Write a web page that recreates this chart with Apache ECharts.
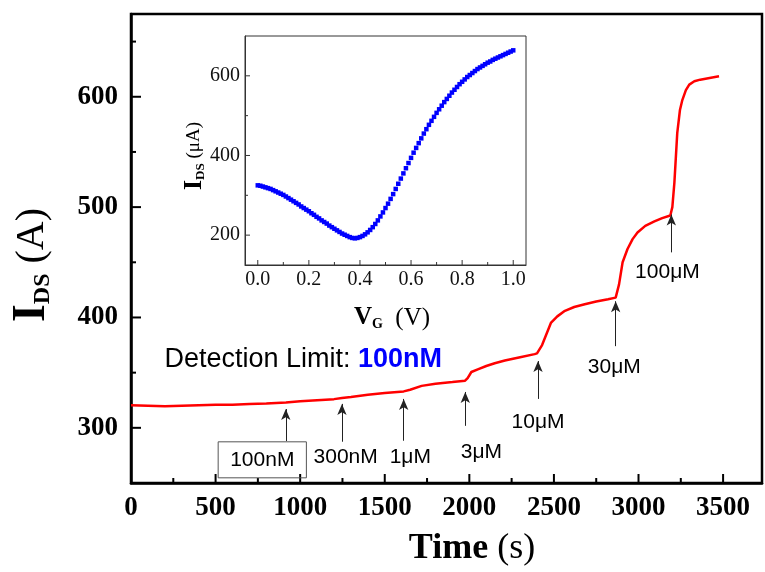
<!DOCTYPE html>
<html><head><meta charset="utf-8">
<script src="https://cdn.jsdelivr.net/npm/echarts@6/dist/echarts.min.js"></script>
<style>html,body{margin:0;padding:0;background:#fff}#c{width:765px;height:572px}</style>
</head><body><div id="c"></div>
<script>
// ---- main trace: time (s) vs I_DS
const timeS = [0,100,200,300,400,500,600,700,800,916,1000,1100,1200,1247,1300,1400,1500,1612,1650,1718,1800,1900,1975,1990,2012,2050,2100,2150,2210,2300,2386,2400,2430,2482,2520,2565,2620,2682,2750,2820,2865,2885,2906,2935,2965,2994,3040,3094,3140,3188,3200,3212,3229,3245,3259,3280,3300,3330,3365,3420,3476];
const idsMain = [320.5,320,319.5,320,320.5,321,321,321.5,322,323,324,325,326,327,328,330,331.5,333,334.5,338,340,341.5,342.7,345,350.6,353,356,358.5,361,364,366.8,367.5,375,395,401,406,409.5,412,414.5,416.5,418,430,450,462,471,477,483,487,490,492.4,500,522,567,588,597,606,611,614,615.5,617,618.5];

// ---- inset: transfer curve
const vg = [];
for (let i = 0; i <= 100; i++) vg.push(+(i / 100).toFixed(2));
const idsInset = [325,324,322,320,318,316,313,310,307,304,301,297,293,289,285,281,277,272,268,264,260,255,251,246,242,237,233,229,224,220,216,212,208,204,201,198,195,193,192,193,195,198,202,207,213,220,228,237,247,257,268,279,291,303,316,329,342,355,368,381,394,407,419,431,443,455,466,477,487,497,507,516,525,534,542,550,558,565,572,579,585,591,597,602,607,612,617,621,625,629,633,636,640,643,646,649,652,655,658,661,664];

// ---- annotations (injection points)
const injLabels = ['100nM','300nM','1\u03bcM','3\u03bcM','10\u03bcM','30\u03bcM','100\u03bcM'];
const injTime   = [915,1247,1612,1976,2406,2865,3194];
const arrowTip  = [317,321.7,326.2,332.5,360.5,414.7,493.3];
const arrowBase = [288,287.4,288.3,301.8,326.2,374,459];
const labelTime = [776,1269,1651,2071,2406,2857,3171];
const labelVal  = [271,273.8,273.8,278.3,305.4,355,441];

// ---- tick marks
const mainXMajor = [0,500,1000,1500,2000,2500,3000,3500];
const mainXMinor = [250,750,1250,1750,2250,2750,3250];
const mainYMajor = [300,400,500,600];
const mainYMinor = [350,450,550,650];
const inXMajor = [0,0.2,0.4,0.6,0.8,1.0];
const inXMinor = [0.1,0.3,0.5,0.7,0.9];
const inYMajor = [200,400,600];
const inYMinor = [300,500];

const X0 = 0, Y0 = 250, IX0 = -0.05, IY0 = 125;

function ticks(xi, yi, vals, len, dir, base, color, w) {
  return {
    type: 'custom', xAxisIndex: xi, yAxisIndex: yi, clip: false, silent: true, z: 6,
    animation: false,
    data: vals.map(v => [v]),
    renderItem: function (params, api) {
      const v = api.value(0);
      let shape;
      if (dir === 'y') {
        const p = api.coord([base, v]);
        shape = {x1: p[0], y1: p[1], x2: p[0] + len, y2: p[1]};
      } else {
        const p = api.coord([v, base]);
        shape = {x1: p[0], y1: p[1], x2: p[0], y2: p[1] - len};
      }
      return {type: 'line', shape: shape, style: {stroke: color, lineWidth: w}};
    }
  };
}

const chart = echarts.init(document.getElementById('c'), null, {renderer: 'canvas'});

const labelData = injLabels.map((n, i) => {
  const d = {name: n, value: [labelTime[i], labelVal[i]]};
  if (i === 0) {
    d.label = {borderColor: '#555', borderWidth: 1, padding: [8, 12, 7, 12]};
  }
  return d;
});

const option = {
  backgroundColor: '#fff',
  animation: false,
  grid: [
    {left: 131, top: 14, right: 0, bottom: 89, show: true, borderColor: '#000', borderWidth: 2.5, backgroundColor: 'transparent'},
    {left: 245, top: 36, width: 281, height: 229, show: true, borderColor: '#333', borderWidth: 1, backgroundColor: '#fff'}
  ],
  xAxis: [
    {type: 'value', gridIndex: 0, min: 0, max: 3730, interval: 250,
     axisLine: {show: true, onZero: false, lineStyle: {color: '#000', width: 2.5}},
     axisTick: {show: false}, splitLine: {show: false},
     axisLabel: {margin: 12, color: '#000', fontFamily: 'Liberation Serif', fontWeight: 'bold', fontSize: 27,
       formatter: v => (v % 500 === 0 ? String(v) : '')}},
    {type: 'value', gridIndex: 1, min: IX0, max: 1.05, interval: 0.05,
     axisLine: {show: true, onZero: false, lineStyle: {color: '#333', width: 1}},
     axisTick: {show: false}, splitLine: {show: false},
     axisLabel: {margin: 5, color: '#111', fontFamily: 'Liberation Serif', fontSize: 20,
       formatter: v => { const k = Math.round(v * 100); return (k >= 0 && k % 20 === 0) ? (k / 100).toFixed(1) : ''; }}}
  ],
  yAxis: [
    {type: 'value', gridIndex: 0, min: 250, max: 675, interval: 50,
     axisLine: {show: true, onZero: false, lineStyle: {color: '#000', width: 2.5}},
     axisTick: {show: false}, splitLine: {show: false},
     axisLabel: {margin: 13, color: '#000', fontFamily: 'Liberation Serif', fontWeight: 'bold', fontSize: 27,
       formatter: v => (v % 100 === 0 ? String(v) : '')}},
    {type: 'value', gridIndex: 1, min: IY0, max: 700, interval: 25,
     axisLine: {show: true, onZero: false, lineStyle: {color: '#333', width: 1}},
     axisTick: {show: false}, splitLine: {show: false},
     axisLabel: {margin: 5, color: '#111', fontFamily: 'Liberation Serif', fontSize: 20,
       formatter: v => (v % 200 === 0 ? String(v) : '')}}
  ],
  series: [
    {type: 'line', xAxisIndex: 0, yAxisIndex: 0, data: timeS.map((t, i) => [t, idsMain[i]]),
     showSymbol: false, lineStyle: {color: '#ff0000', width: 2.5}, z: 3,
     markLine: {silent: true, animation: false, symbol: ['none', 'arrow'], symbolSize: [7, 11],
       lineStyle: {color: '#222', width: 1, type: 'solid'}, label: {show: false},
       data: injTime.map((t, i) => [{coord: [t, arrowBase[i]]}, {coord: [t, arrowTip[i]]}])}},
    {type: 'scatter', xAxisIndex: 0, yAxisIndex: 0, symbolSize: 1, itemStyle: {color: 'rgba(0,0,0,0)', opacity: 1}, z: 7,
     data: labelData,
     label: {show: true, position: 'inside', formatter: '{b}', color: '#000', fontFamily: 'Liberation Sans', fontSize: 21}},
    {type: 'scatter', xAxisIndex: 0, yAxisIndex: 0, symbolSize: 1, itemStyle: {color: 'rgba(0,0,0,0)', opacity: 1}, z: 7,
     data: [{name: 'dl', value: [1018, 362.3]}],
     label: {show: true, position: 'inside', formatter: '{a|Detection Limit: }{b|100nM}',
       rich: {a: {color: '#000', fontFamily: 'Liberation Sans', fontSize: 27},
              b: {color: '#0000ff', fontFamily: 'Liberation Sans', fontWeight: 'bold', fontSize: 27}}}},
    {type: 'scatter', xAxisIndex: 1, yAxisIndex: 1, symbol: 'rect', symbolSize: 4.5,
     itemStyle: {color: '#0000ff', opacity: 1}, data: vg.map((v, i) => [v, idsInset[i]]), z: 8},
    ticks(0, 0, mainXMajor, 9, 'x', Y0, '#000', 2),
    ticks(0, 0, mainXMinor, 5, 'x', Y0, '#000', 2),
    ticks(0, 0, mainYMajor, 10, 'y', X0, '#000', 2),
    ticks(0, 0, mainYMinor, 5, 'y', X0, '#000', 2),
    ticks(1, 1, inXMajor, 5, 'x', IY0, '#333', 1),
    ticks(1, 1, inXMinor, 3, 'x', IY0, '#333', 1),
    ticks(1, 1, inYMajor, 5, 'y', IX0, '#333', 1),
    ticks(1, 1, inYMinor, 3, 'y', IX0, '#333', 1)
  ],
  graphic: [
    {type: 'text', x: 32, y: 265, rotation: Math.PI / 2, z: 10,
     style: {text: '{a|I}{b|DS}{c| (A)}', align: 'center', verticalAlign: 'middle',
       rich: {a: {fontFamily: 'Liberation Serif', fontWeight: 'bold', fontSize: 46, fill: '#000', lineHeight: 46},
              b: {fontFamily: 'Liberation Serif', fontWeight: 'bold', fontSize: 24, fill: '#000', verticalAlign: 'bottom', lineHeight: 46},
              c: {fontFamily: 'Liberation Serif', fontSize: 40, fill: '#000', lineHeight: 46}}}},
    {type: 'text', x: 472, y: 549, z: 10,
     style: {text: '{a|Time}{c| (s)}', align: 'center', verticalAlign: 'middle',
       rich: {a: {fontFamily: 'Liberation Serif', fontWeight: 'bold', fontSize: 36, fill: '#000'},
              c: {fontFamily: 'Liberation Serif', fontSize: 36, fill: '#000'}}}},
    {type: 'text', x: 194, y: 156, rotation: Math.PI / 2, z: 10,
     style: {text: '{a|I}{b|DS}{c| (\u03bcA)}', align: 'center', verticalAlign: 'middle',
       rich: {a: {fontFamily: 'Liberation Serif', fontWeight: 'bold', fontSize: 26, fill: '#000', lineHeight: 26},
              b: {fontFamily: 'Liberation Serif', fontWeight: 'bold', fontSize: 13, fill: '#000', verticalAlign: 'bottom', lineHeight: 26},
              c: {fontFamily: 'Liberation Serif', fontSize: 19, fill: '#000', lineHeight: 26}}}},
    {type: 'text', x: 392, y: 318, z: 10,
     style: {text: '{a|V}{b|G}{c|  (V)}', align: 'center', verticalAlign: 'middle',
       rich: {a: {fontFamily: 'Liberation Serif', fontWeight: 'bold', fontSize: 25, fill: '#000', lineHeight: 26},
              b: {fontFamily: 'Liberation Serif', fontWeight: 'bold', fontSize: 14, fill: '#000', verticalAlign: 'bottom', lineHeight: 26},
              c: {fontFamily: 'Liberation Serif', fontSize: 25, fill: '#000', lineHeight: 26}}}}
  ]
};
chart.setOption(option);
</script>
</body></html>
